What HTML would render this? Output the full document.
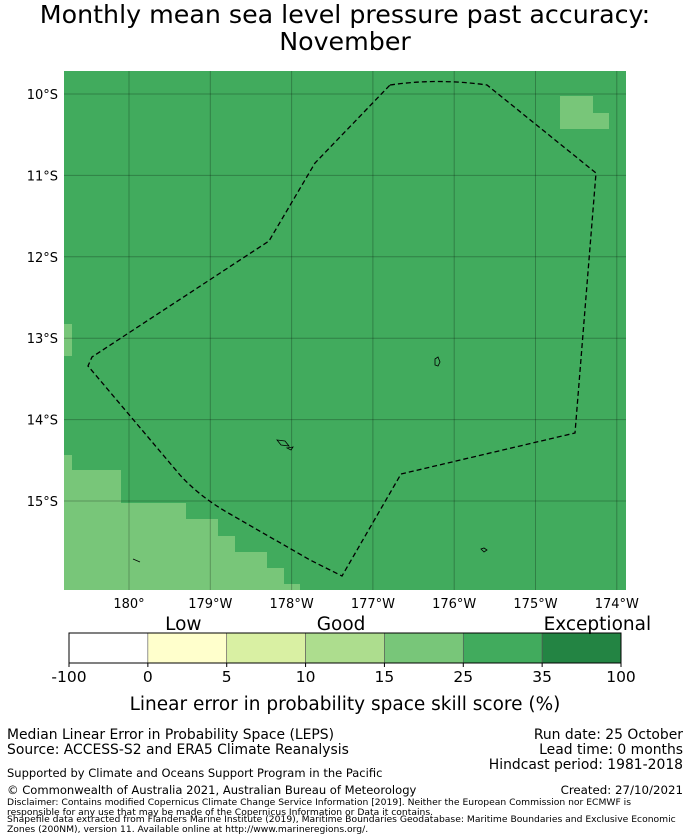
<!DOCTYPE html>
<html><head><meta charset="utf-8"><style>
body{margin:0;background:#fff;width:690px;height:839px;overflow:hidden;font-family:"DejaVu Sans","Liberation Sans",sans-serif;}
svg{position:absolute;left:0;top:0}
</style></head><body>
<svg id="s" width="690" height="839">
<text x="345" y="23" font-size="25.3" text-anchor="middle" fill="#000">Monthly mean sea level pressure past accuracy:</text>
<text x="345" y="50" font-size="25.3" text-anchor="middle" fill="#000">November</text>
<g id="map">
<rect x="64" y="71" width="562" height="519" fill="#41ab5d"/>
<path d="M64 324h8v32h-8z M64 455h8v15h49v33h65v16h32v17h17v16h32v16h17v16h16v6H64z M560 96h33v17h16v16h-49z" fill="#78c679"/>
<g id="grid" stroke="#000" stroke-opacity="0.25" stroke-width="1"></g>
<path d="M390 85 Q437 78 487 85 L596 173 L575 433 L401 474 L342 576 L310 560 L230 514 Q200 497 180 475 L88 366 L92 357 L269 241 L315 163 Z" fill="none" stroke="#000" stroke-width="1.3" stroke-dasharray="5,3"/>
<path d="M277 440 l4 5 l8 1 l-4 -5z M287 448 l6 -1 l-2 3z M435 359 l3 -2 l2 5 l-2 4 l-3 -1z M481 549 l3 -1 l3 2 l-3 2z M133 559 l7 3" fill="none" stroke="#000" stroke-width="0.8"/>
</g>
<g id="axes" font-size="13" fill="#000"></g>
<g id="cbar"></g>
<text x="345" y="710" font-size="18.5" text-anchor="middle">Linear error in probability space skill score (%)</text>
<g font-size="13.9">
<text x="7" y="739">Median Linear Error in Probability Space (LEPS)</text>
<text x="7" y="754">Source: ACCESS-S2 and ERA5 Climate Reanalysis</text>
<text x="683" y="739" text-anchor="end">Run date: 25 October</text>
<text x="683" y="754" text-anchor="end">Lead time: 0 months</text>
<text x="683" y="769" text-anchor="end">Hindcast period: 1981-2018</text>
<text x="7" y="777" font-size="11.5">Supported by Climate and Oceans Support Program in the Pacific</text>
<text x="7" y="794" font-size="11.55">© Commonwealth of Australia 2021, Australian Bureau of Meteorology</text>
<text x="683" y="794" font-size="11.8" text-anchor="end">Created: 27/10/2021</text>
<text x="7" y="805" font-size="9.2">Disclaimer: Contains modified Copernicus Climate Change Service Information [2019]. Neither the European Commission nor ECMWF is</text>
<text x="7" y="815" font-size="9.2">responsible for any use that may be made of the Copernicus Information or Data it contains.</text>
<text x="7" y="822" font-size="9.2">Shapefile data extracted from Flanders Marine Institute (2019), Maritime Boundaries Geodatabase: Maritime Boundaries and Exclusive Economic</text>
<text x="7" y="832" font-size="9.2">Zones (200NM), version 11. Available online at http://www.marineregions.org/.</text>
</g>
</svg>
<script>
const lonLabels=["180°","179°W","178°W","177°W","176°W","175°W","174°W"];
const lonValues=[180,181,182,183,184,185,186];
const latLabels=["10°S","11°S","12°S","13°S","14°S","15°S"];
const latValues=[10,11,12,13,14,15];
const cbTicks=["-100","0","5","10","15","25","35","100"];
const cbColors=["#ffffff","#ffffcc","#d9f0a3","#addd8e","#78c679","#41ab5d","#238443"];
const cbCategories=["Low","Good","Exceptional"];
const cbCategoryPos=[1.45,3.45,6.7];
const NS="http://www.w3.org/2000/svg";
const xs=v=>129+(v-180)*81.3, ys=v=>94+(v-10)*81.4;
function mk(t,a,p){const e=document.createElementNS(NS,t);for(const k in a)e.setAttribute(k,a[k]);p.appendChild(e);return e;}
const grid=document.getElementById('grid'),axes=document.getElementById('axes');
lonValues.forEach((v,i)=>{const x=xs(v);
 const l=mk('line',{x1:x,x2:x,y1:71,y2:590},grid);
 
 
 const t=mk('text',{x:x,y:608,'text-anchor':'middle'},axes);t.textContent=lonLabels[i];
 
 });
latValues.forEach((v,i)=>{const y=ys(v);
 const l=mk('line',{x1:64,x2:626,y1:y,y2:y},grid);
 
 
 const t=mk('text',{x:58,y:y+5,'text-anchor':'end'},axes);t.textContent=latLabels[i];
 
 });
const cb=document.getElementById('cbar');const cx0=69,cw=(621-69)/cbColors.length;
cbColors.forEach((c,i)=>{const r=mk('rect',{x:cx0+i*cw,y:633,width:cw,height:30,fill:c,stroke:'#555','stroke-width':0.6},cb);
 
 });
mk('rect',{x:cx0,y:633,width:552,height:30,fill:'none',stroke:'#000','stroke-width':1},cb);
cbTicks.forEach((t,i)=>{const x=cx0+i*cw;mk('line',{x1:x,x2:x,y1:663,y2:667,stroke:'#000'},cb);
 const e=mk('text',{x:x,y:682,'font-size':15.5,'text-anchor':'middle'},cb);e.textContent=t;
 
 });
cbCategories.forEach((c,i)=>{const e=mk('text',{x:cx0+cbCategoryPos[i]*cw,y:630,'font-size':18.5,'text-anchor':'middle'},cb);e.textContent=c;
 
 });
</script>
</body></html>
